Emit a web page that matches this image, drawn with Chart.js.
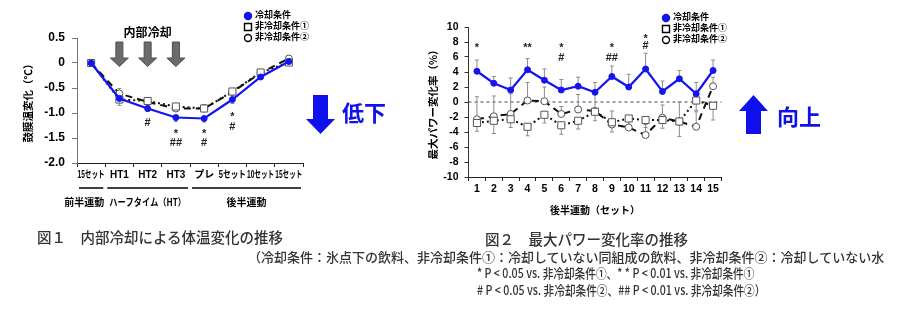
<!DOCTYPE html>
<html lang="ja">
<head>
<meta charset="utf-8">
<script src="https://cdn.jsdelivr.net/npm/chart.js@4.4.1/dist/chart.umd.min.js"></script>
<style>
  body { margin: 0; width: 900px; height: 334px; background: #fff; position: relative; overflow: hidden;
         font-family: 'Noto Sans CJK JP', sans-serif; }
  canvas { position: absolute; top: 0; }
  .cap { position: absolute; font-size: 14.5px; line-height: 1; color: #333; font-weight: 500; white-space: nowrap; }
  .note { position: absolute; font-size: 13px; line-height: 1; color: #333; font-weight: 500; white-space: nowrap;
          transform-origin: left center; }
  svg { position: absolute; left: 0; top: 0; }
</style>
</head>
<body>
<canvas id="tempChart" width="320" height="215" style="left:0"></canvas>
<canvas id="powerChart" width="330" height="220" style="left:420px"></canvas>

<svg width="900" height="334">
  <polygon points="313,95 328,95 328,119 335,119 320.5,134 306,119 313,119" fill="#1010ee"/>
  <text x="342" y="121" font-size="22" font-weight="bold" fill="#1010ee" font-family="Noto Sans CJK JP">低下</text>
  <polygon points="753.5,95 768,111 761,111 761,134 746,134 746,111 739,111" fill="#1010ee"/>
  <text x="777" y="125" font-size="22" font-weight="bold" fill="#1010ee" font-family="Noto Sans CJK JP">向上</text>
</svg>

<div class="cap" style="left:37px; top:230px">図１　内部冷却による体温変化の推移</div>
<div class="cap" style="left:485px; top:232px">図２　最大パワー変化率の推移</div>
<div class="note" style="left:248px; top:250px">（冷却条件：氷点下の飲料、非冷却条件①：冷却していない同組成の飲料、非冷却条件②：冷却していない水</div>
<div class="note" style="left:477px; top:266px; transform: scaleX(0.82)">* P &lt; 0.05 vs. 非冷却条件①、* * P &lt; 0.01 vs. 非冷却条件①</div>
<div class="note" style="left:477px; top:283px; transform: scaleX(0.82)"># P &lt; 0.05 vs. 非冷却条件②、## P &lt; 0.01 vs. 非冷却条件②）</div>

<script>
// 図1 鼓膜温変化
const tempLabels = ['15セット', 'HT1', 'HT2', 'HT3', 'プレ', '5セット', '10セット', '15セット'];
const tempCool = [0, -0.71, -0.91, -1.09, -1.11, -0.73, -0.28, 0.03];
const tempNon1 = [0, -0.73, -0.76, -0.87, -0.91, -0.57, -0.19, 0.01];
const tempNon2 = [0, -0.61, -0.78, -0.91, -0.91, -0.58, -0.2, 0.09];
const tempCoolErr = [0, 0.05, 0.06, 0.08, 0.07, 0.08, 0.05, 0.04];
const tempNon1Err = [0, 0.12, 0.05, 0.06, 0.06, 0.05, 0.05, 0.04];
const tempNon2Err = [0, 0.1, 0.05, 0.05, 0.08, 0.06, 0.05, 0.04];
const tempStar = ['', '', '', '*', '*', '*', '', ''];
const tempStarAt = [0, 0, 0, -1.35, -1.35, -1.02, 0, 0];
const tempHash = ['', '', '#', '##', '#', '#', '', ''];
const tempHashAt = [0, 0, -1.2, -1.59, -1.59, -1.27, 0, 0];
const phaseNames = ['前半運動', 'ハーフタイム（HT）', '後半運動'];
const phaseStart = [0, 1, 4];
const phaseEnd = [0, 3, 7];

// 図2 最大パワー変化率
const powerSets = ['1', '2', '3', '4', '5', '6', '7', '8', '9', '10', '11', '12', '13', '14', '15'];
const powerCool = [4.1, 2.5, 1.6, 4.3, 2.9, 1.6, 2.1, 1.3, 3.4, 2.0, 4.4, 1.4, 3.1, 1.1, 4.2];
const powerNon1 = [-2.8, -2.5, -2.3, -3.3, -1.7, -3.1, -2.5, -1.3, -2.7, -2.2, -2.4, -2.4, -2.6, 0.2, -0.5];
const powerNon2 = [-2.3, -1.9, -1.6, 0.2, 0.1, -1.6, -1.0, -1.2, -3.0, -3.4, -4.4, -2.1, -2.6, -3.3, 2.1];
const powerCoolErr = [1.5, 0.9, 1.6, 1.5, 1.5, 1.4, 1.2, 1.3, 1.4, 1.7, 2.1, 1.4, 1.1, 1.5, 1.4];
const powerNon1Err = [1.1, 1.7, 1.1, 1.2, 1.1, 1.2, 1.1, 1.2, 1.3, 1.1, 1.0, 1.1, 2.0, 1.3, 1.9];
const powerNon2Err = [3.0, 2.7, 2.7, 2.4, 1.9, 1.0, 2.0, 2.5, 1.8, 1.4, 1.4, 1.7, 2.6, 2.0, 1.2];
const powerStar = ['*', '', '', '**', '', '*', '', '', '*', '', '*', '', '', '', ''];
const powerStarAt = [7.6, 0, 0, 7.6, 0, 7.6, 0, 0, 7.6, 0, 8.8, 0, 0, 0, 0];
const powerHash = ['', '', '', '', '', '#', '', '', '##', '', '#', '', '', '', ''];
const powerHashAt = [0, 0, 0, 0, 0, 5.9, 0, 0, 5.9, 0, 7.5, 0, 0, 0, 0];

const BLUE = '#1414f0';
const FONT = "'Liberation Sans', 'Noto Sans CJK JP', sans-serif";
Chart.defaults.font.family = FONT;
Chart.defaults.color = '#000';

// SD bars, drawn under the markers
const errorBars = {
    id: 'errorBars',
    beforeDatasetsDraw(chart) {
        const ctx = chart.ctx;
        const yS = chart.scales.y;
        ctx.save();
        ctx.strokeStyle = '#8c8c8c';
        ctx.lineWidth = 1;
        chart.data.datasets.forEach((ds, di) => {
            chart.getDatasetMeta(di).data.forEach((pt, i) => {
                [[ds.errUp, 1], [ds.errDown, -1]].forEach(([err, dir]) => {
                    if (!err || !err[i]) return;
                    const y2 = yS.getPixelForValue(ds.data[i] + dir * err[i]);
                    ctx.beginPath();
                    ctx.moveTo(pt.x, pt.y);
                    ctx.lineTo(pt.x, y2);
                    ctx.moveTo(pt.x - 2, y2);
                    ctx.lineTo(pt.x + 2, y2);
                    ctx.stroke();
                });
            });
        });
        ctx.restore();
    }
};

const sigMarks = {
    id: 'sigMarks',
    afterDatasetsDraw(chart, args, opts) {
        const ctx = chart.ctx;
        const xS = chart.scales.x, yS = chart.scales.y;
        ctx.save();
        ctx.fillStyle = '#222';
        ctx.font = opts.font;
        ctx.textAlign = 'center';
        ctx.textBaseline = 'middle';
        opts.marks.forEach(([texts, at]) => {
            texts.forEach((t, i) => {
                if (!t) return;
                const off = t[0] === '*' ? 3 : 0;
                ctx.fillText(t, xS.getPixelForValue(i), yS.getPixelForValue(at[i]) + off);
            });
        });
        ctx.restore();
    }
};

const miniLegend = {
    id: 'miniLegend',
    afterDraw(chart, args, opts) {
        const ctx = chart.ctx;
        ctx.save();
        ctx.font = opts.font;
        ctx.textBaseline = 'middle';
        chart.data.datasets.forEach((ds, i) => {
            const x = opts.x, y = opts.y + i * opts.gap;
            ctx.beginPath();
            if (ds.pointStyle === 'rect') ctx.rect(x - 3.5, y - 3.5, 7, 7);
            else ctx.arc(x, y, 3.5, 0, Math.PI * 2);
            ctx.fillStyle = ds.pointBackgroundColor;
            ctx.fill();
            ctx.lineWidth = 1.4;
            ctx.strokeStyle = i === 0 ? BLUE : '#000';
            ctx.stroke();
            ctx.fillStyle = '#000';
            ctx.fillText(ds.label, x + 7, y);
        });
        ctx.restore();
    }
};

const zeroLine = {
    id: 'zeroLine',
    beforeDatasetsDraw(chart) {
        const ctx = chart.ctx, a = chart.chartArea;
        const y = chart.scales.y.getPixelForValue(0);
        ctx.save();
        ctx.strokeStyle = '#444';
        ctx.lineWidth = 1;
        ctx.setLineDash([3, 3]);
        ctx.beginPath();
        ctx.moveTo(a.left, y);
        ctx.lineTo(a.right, y);
        ctx.stroke();
        ctx.restore();
    }
};

// grey arrows + 内部冷却 above HT1-HT3
const coolArrows = {
    id: 'coolArrows',
    beforeDatasetsDraw(chart, args, opts) {
        const ctx = chart.ctx;
        const xS = chart.scales.x, yS = chart.scales.y;
        const top = yS.getPixelForValue(0.42);
        const neck = yS.getPixelForValue(0.1);
        const tip = yS.getPixelForValue(-0.07);
        ctx.save();
        ctx.fillStyle = '#6b6b6b';
        ctx.strokeStyle = '#4d4d4d';
        opts.at.forEach(i => {
            const cx = xS.getPixelForValue(i);
            ctx.beginPath();
            ctx.moveTo(cx - 3.5, top);
            ctx.lineTo(cx + 3.5, top);
            ctx.lineTo(cx + 3.5, neck);
            ctx.lineTo(cx + 9, neck);
            ctx.lineTo(cx, tip);
            ctx.lineTo(cx - 9, neck);
            ctx.lineTo(cx - 3.5, neck);
            ctx.closePath();
            ctx.fill();
            ctx.stroke();
        });
        ctx.font = "bold 12px 'Noto Sans CJK JP'";
        ctx.fillStyle = '#000';
        ctx.textAlign = 'center';
        ctx.textBaseline = 'middle';
        ctx.fillText(opts.title, xS.getPixelForValue(opts.at[1]), top - 10);
        ctx.restore();
    }
};

// category labels + phase brackets under the x axis of 図1
const phaseAxis = {
    id: 'phaseAxis',
    afterDraw(chart) {
        const ctx = chart.ctx;
        const xS = chart.scales.x;
        const bottom = chart.chartArea.bottom;
        const step = xS.getPixelForValue(1) - xS.getPixelForValue(0);
        ctx.save();
        ctx.fillStyle = '#000';
        ctx.textAlign = 'center';
        ctx.textBaseline = 'middle';
        ctx.font = 'bold 10px ' + FONT;
        tempLabels.forEach((t, i) => ctx.fillText(t, xS.getPixelForValue(i), bottom + 12, step - 1));

        ctx.strokeStyle = '#000';
        ctx.lineWidth = 1.5;
        ctx.font = "bold 10px 'Noto Sans CJK JP'";
        phaseNames.forEach((name, g) => {
            const x1 = xS.getPixelForValue(phaseStart[g]) - step / 2 + 2;
            const x2 = xS.getPixelForValue(phaseEnd[g]) + step / 2 - 2;
            ctx.beginPath();
            ctx.moveTo(x1, bottom + 25);
            ctx.lineTo(x2, bottom + 25);
            ctx.stroke();
            if (g === 0) {
                ctx.textAlign = 'right';
                ctx.fillText(name, x2 + 1, bottom + 39);
            } else {
                ctx.textAlign = 'center';
                ctx.fillText(name, (x1 + x2) / 2, bottom + 39, x2 - x1 - 4);
            }
        });
        ctx.restore();
    }
};

function lineSets(cool, non1, non2, coolErr, non1Err, non2Err, coolUp) {
    return [
        {
            label: '冷却条件', data: cool, borderColor: BLUE, backgroundColor: BLUE,
            pointBackgroundColor: BLUE, pointBorderColor: BLUE, borderWidth: 2.2,
            pointStyle: 'circle', pointRadius: 3, pointBorderWidth: 1,
            errUp: coolUp ? coolErr : null, errDown: coolUp ? null : coolErr
        },
        {
            label: '非冷却条件①', data: non1, borderColor: '#111', borderWidth: 2, borderDash: [2, 3],
            pointStyle: 'rect', pointRadius: 5, pointBackgroundColor: '#fff',
            pointBorderColor: '#555', pointBorderWidth: 1, errDown: non1Err
        },
        {
            label: '非冷却条件②', data: non2, borderColor: '#111', borderWidth: 2, borderDash: [7, 5],
            pointStyle: 'circle', pointRadius: 3.5, pointBackgroundColor: '#fff',
            pointBorderColor: '#555', pointBorderWidth: 1, errUp: non2Err
        }
    ];
}

new Chart(document.getElementById('tempChart'), {
    type: 'line',
    data: {
        labels: tempLabels,
        datasets: lineSets(tempCool, tempNon1, tempNon2, tempCoolErr, tempNon1Err, tempNon2Err, false)
    },
    options: {
        responsive: false,
        animation: false,
        layout: { padding: { top: 38, right: 17, left: 0, bottom: 0 } },
        plugins: {
            legend: { display: false },
            tooltip: { enabled: false },
            miniLegend: { x: 248, y: 16, gap: 11, font: 'bold 9px ' + FONT },
            sigMarks: { font: 'bold 11px ' + FONT, marks: [[tempStar, tempStarAt], [tempHash, tempHashAt]] },
            coolArrows: { at: [1, 2, 3], title: '内部冷却' }
        },
        scales: {
            x: {
                offset: true,
                grid: { offset: true, drawOnChartArea: false, tickLength: 4, color: '#222' },
                border: { color: '#222' },
                ticks: { display: false },
                afterFit: s => { s.height = 52; }
            },
            y: {
                min: -2, max: 0.5,
                ticks: {
                    stepSize: 0.5, autoSkip: false, padding: 7, font: { size: 12, weight: 'bold' },
                    callback: v => v === 0 ? '0' : v.toFixed(1)
                },
                grid: { drawOnChartArea: false, tickLength: 5, color: '#777' },
                border: { color: '#777' },
                title: {
                    display: true, text: '鼓膜温変化（℃）', padding: { top: 22 },
                    font: { size: 10.5, weight: 'bold', family: "'Noto Sans CJK JP'" }
                },
                afterFit: s => { s.width = 77; }
            }
        }
    },
    plugins: [errorBars, sigMarks, miniLegend, coolArrows, phaseAxis]
});

new Chart(document.getElementById('powerChart'), {
    type: 'line',
    data: {
        labels: powerSets,
        datasets: lineSets(powerCool, powerNon1, powerNon2, powerCoolErr, powerNon1Err, powerNon2Err, true)
    },
    options: {
        responsive: false,
        animation: false,
        layout: { padding: { top: 27, right: 28.5, left: 0, bottom: 0 } },
        plugins: {
            legend: { display: false },
            tooltip: { enabled: false },
            miniLegend: { x: 246, y: 18, gap: 11, font: 'bold 9px ' + FONT },
            sigMarks: { font: 'bold 11px ' + FONT, marks: [[powerStar, powerStarAt], [powerHash, powerHashAt]] }
        },
        scales: {
            x: {
                offset: true,
                grid: { offset: true, drawOnChartArea: false, tickLength: 4, color: '#222' },
                border: { color: '#222' },
                ticks: { padding: 2, maxRotation: 0, autoSkip: false, font: { size: 10.5, weight: 'bold' } },
                title: {
                    display: true, text: '後半運動（セット）', padding: { bottom: 4 },
                    font: { size: 10, weight: 'bold', family: "'Noto Sans CJK JP'" }
                },
                afterFit: s => { s.height = 43; }
            },
            y: {
                min: -10, max: 10,
                ticks: { stepSize: 2, autoSkip: false, padding: 6, font: { size: 10.5, weight: 'bold' } },
                grid: { drawOnChartArea: false, tickLength: 4, color: '#333' },
                border: { color: '#333' },
                title: {
                    display: true, text: '最大パワー変化率（%）', padding: { top: 7 },
                    font: { size: 10.5, weight: 'bold', family: "'Noto Sans CJK JP'" }
                },
                afterFit: s => { s.width = 48.5; }
            }
        }
    },
    plugins: [zeroLine, errorBars, sigMarks, miniLegend]
});
</script>
</body>
</html>
